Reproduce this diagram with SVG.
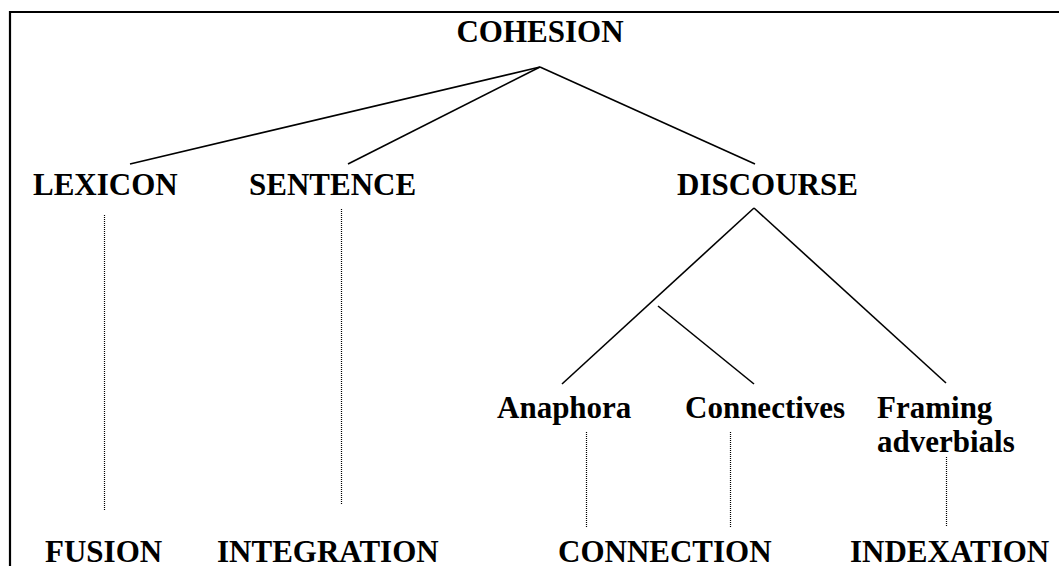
<svg xmlns="http://www.w3.org/2000/svg" width="1059" height="566" viewBox="0 0 1059 566">
<style>
.t{font-family:"Liberation Serif","Times New Roman",serif;font-weight:bold;font-size:31px;fill:#000}
.s{stroke:#000;stroke-width:1.6;fill:none}
.d{stroke:#000;stroke-width:1.2;stroke-dasharray:1 1;fill:none}
</style>
<rect x="0" y="0" width="1059" height="566" fill="#fff"/>
<path d="M10,566 V12 H1059" stroke="#000" stroke-width="2.2" fill="none"/>
<g id="connectors">
<line class="s" x1="540" y1="67" x2="130" y2="164"/>
<line class="s" x1="540" y1="67" x2="348" y2="164"/>
<line class="s" x1="540" y1="67" x2="755" y2="164"/>
<line class="s" x1="754" y1="208" x2="562" y2="384"/>
<line class="s" x1="658" y1="306" x2="754" y2="384"/>
<line class="s" x1="754" y1="208" x2="946" y2="383"/>
<line class="d" x1="104.5" y1="215" x2="104.5" y2="510"/>
<line class="d" x1="341.5" y1="209" x2="341.5" y2="505"/>
<line class="d" x1="586.5" y1="432" x2="586.5" y2="528"/>
<line class="d" x1="730.5" y1="432" x2="730.5" y2="528"/>
<line class="d" x1="946.5" y1="457" x2="946.5" y2="527"/>
</g>
<g id="cohesion"><text class="t" x="540" y="42" text-anchor="middle">COHESION</text></g>
<g id="lexicon"><text class="t" x="33" y="195">LEXICON</text></g>
<g id="sentence"><text class="t" x="249" y="195">SENTENCE</text></g>
<g id="discourse"><text class="t" x="677" y="195">DISCOURSE</text></g>
<g id="anaphora"><text class="t" x="497" y="418">Anaphora</text></g>
<g id="connectives"><text class="t" x="685" y="418">Connectives</text></g>
<g id="framing"><text class="t" x="877" y="418">Framing</text><text class="t" x="877" y="452">adverbials</text></g>
<g id="fusion"><text class="t" x="45" y="562">FUSION</text></g>
<g id="integration"><text class="t" x="217" y="562">INTEGRATION</text></g>
<g id="connection"><text class="t" x="558" y="562">CONNECTION</text></g>
<g id="indexation"><text class="t" x="850" y="562">INDEXATION</text></g>
</svg>
